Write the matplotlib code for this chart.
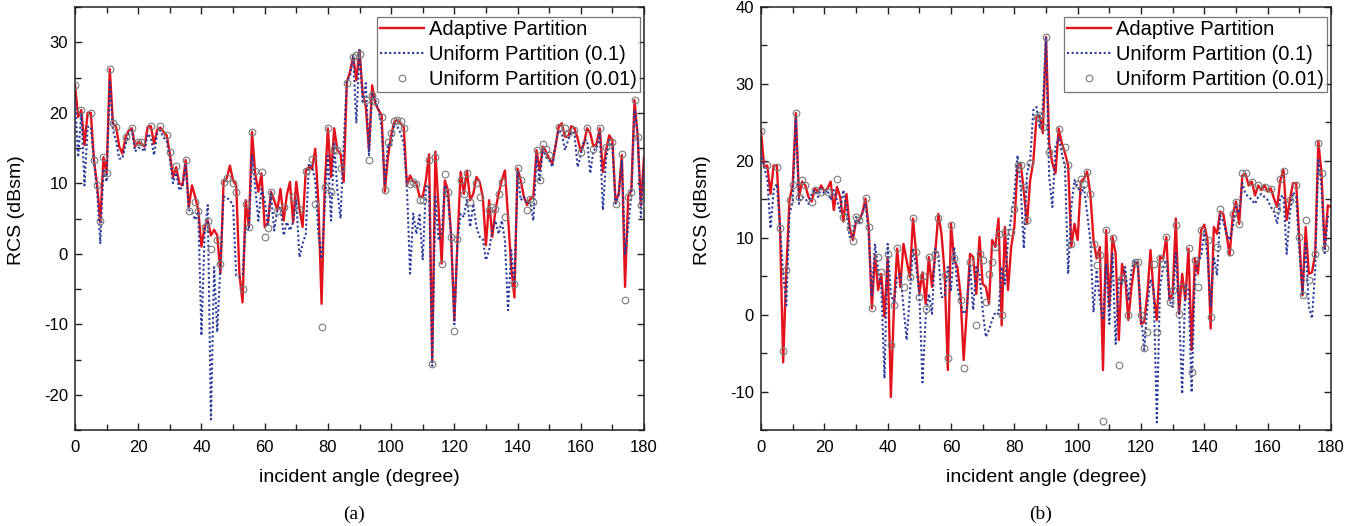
import numpy as np
import matplotlib
matplotlib.use("Agg")
import matplotlib.pyplot as plt
from matplotlib.ticker import MultipleLocator

plt.rcParams['font.family'] = ['Liberation Sans', 'DejaVu Sans']
plt.rcParams['axes.unicode_minus'] = False

angles = list(range(0, 181))

# ---------------- Panel (a) ----------------
a_adaptive = [
    23.9, 19.4, 20.4, 15.4, 20.0, 20.0, 13.3, 9.7, 4.5, 13.7,
    11.4, 26.2, 18.5, 18.0, 15.2, 14.2, 16.5, 17.5, 17.8, 15.2,
    15.9, 15.6, 15.2, 18.0, 18.1, 15.6, 17.6, 17.9, 17.3, 16.8,
    14.2, 10.9, 12.3, 10.0, 9.7, 13.3, 6.6, 9.7, 8.1, 6.2,
    1.0, 3.8, 4.7, 2.6, 3.4, 2.6, -2.8, 10.2, 10.7, 12.5,
    10.4, 9.7, -2.8, -6.9, 7.6, 3.8, 17.3, 11.4, 8.8, 11.4,
    3.8, 4.3, 8.8, 7.6, 6.2, 9.2, 4.7, 8.3, 10.2, 4.5,
    10.2, 6.4, 3.8, 11.8, 12.3, 12.0, 14.9, 7.1, -7.1, 9.5,
    17.8, 10.9, 17.8, 14.7, 14.2, 10.2, 24.4, 25.8, 28.0, 24.6,
    28.9, 22.7, 20.9, 14.7, 23.9, 21.3, 20.4, 19.7, 8.8, 13.7,
    16.8, 18.7, 19.0, 18.5, 18.0, 9.7, 11.1, 10.2, 10.0, 8.1,
    8.1, 10.4, 14.1, -15.4, 14.5, 6.6, -1.4, 10.4, 9.0, 2.4,
    -9.5, 1.9, 11.6, 8.5, 11.8, 7.6, 8.5, 10.9, 10.2, 8.1,
    1.2, 7.6, 2.4, 6.2, 8.5, 10.4, 11.8, 5.2, -1.9, -6.2,
    12.1, 10.4, 8.1, 6.9, 7.8, 8.1, 14.7, 11.8, 15.2, 14.5,
    13.5, 12.8, 15.2, 18.0, 18.5, 16.6, 16.6, 18.1, 17.8, 16.4,
    14.5, 15.6, 17.8, 17.1, 15.2, 15.6, 17.8, 11.6, 14.7, 16.8,
    16.1, 7.3, 8.5, 14.0, -4.7, 8.1, 9.0, 21.8, 16.6, 6.9,
    13.7]

a_uniform01 = [
    22.0, 13.7, 20.0, 9.7, 18.0, 18.0, 13.0, 9.0, 1.4, 12.0,
    10.2, 24.6, 17.5, 16.0, 13.5, 13.5, 15.5, 17.0, 17.5, 14.5,
    15.0, 15.0, 14.5, 17.0, 16.5, 14.0, 17.0, 17.5, 16.5, 16.0,
    13.5, 10.0, 11.5, 9.0, 9.5, 12.5, 6.2, 6.0, 4.8, 6.0,
    -11.6, 2.8, 6.9, -23.5, -1.9, -11.1, -1.4, 8.1, 8.0, 7.5,
    7.0, -3.1, -3.3, -3.0, 3.8, 3.3, 14.0, 9.5, 4.7, 9.2,
    7.6, 3.8, 8.5, 3.3, 6.2, 6.6, 2.6, 4.5, 3.3, 4.5,
    7.6, -0.5, 1.4, 2.8, 12.8, 12.3, 10.4, 2.8, -0.7, 6.6,
    14.2, 4.7, 15.6, 9.0, 5.0, 15.6, 24.6, 25.1, 28.2, 18.5,
    29.1, 21.3, 24.2, 14.0, 22.7, 21.8, 20.4, 17.8, 10.0, 15.6,
    15.2, 18.5, 18.0, 17.1, 15.6, 9.5, -2.8, 5.7, 2.8, 5.5,
    -0.9, 9.5, 9.7, -15.9, 8.1, 1.9, 2.8, 9.7, 7.6, 2.4,
    -10.0, 1.9, 5.7, 5.2, 7.8, 3.8, 7.1, 3.8, 2.4, 2.1,
    -0.9, 0.5, 3.3, 4.7, 2.8, 4.7, 1.9, -8.0, 0.5, -4.3,
    11.8, 7.6, 8.1, 7.1, 7.3, 4.7, 13.7, 10.2, 14.9, 13.7,
    13.3, 12.3, 15.6, 17.5, 17.1, 14.7, 16.1, 17.3, 17.1, 12.3,
    14.0, 16.1, 16.1, 11.4, 14.7, 14.9, 17.1, 6.2, 13.5, 16.1,
    15.2, 7.1, 8.3, 13.3, 0.0, 3.8, 8.5, 20.4, 17.1, 5.2,
    12.3]

a_circ_angles = [0, 2, 5, 6, 7, 8, 9, 10, 11, 12, 13, 16, 18, 20, 21, 24, 27, 29, 30, 32,
                 35, 36, 38, 39, 41, 42, 43, 45, 46, 47, 48, 50, 51, 53, 54, 55, 56, 57, 59, 60,
                 61, 62, 64, 66, 69, 71, 73, 75, 76, 78, 79, 80, 81, 82, 83, 84, 86, 88, 89, 90,
                 92, 93, 94, 95, 97, 98, 99, 100, 101, 102, 103, 104, 106, 107, 108, 109, 110, 112, 113, 114,
                 116, 117, 118, 119, 120, 121, 122, 123, 124, 125, 127, 128, 131, 132, 133, 134, 135, 136, 139, 140,
                 141, 143, 144, 145, 146, 147, 148, 149, 150, 153, 155, 156, 158, 160, 162, 164, 166, 168, 170, 171,
                 173, 174, 175, 176, 177, 178, 179]
a_circ_values = [23.9, 20.4, 20.0, 13.3, 9.7, 4.7, 13.7, 11.4, 26.2, 18.5, 18.0, 16.5, 17.9, 15.9, 15.9, 18.1, 18.1, 16.8, 14.4, 12.4,
                 13.3, 6.0, 7.3, 6.0, 3.8, 4.7, 0.7, 1.9, -1.4, 10.2, 10.7, 10.0, 8.8, -5.0, 7.0, 3.8, 17.3, 11.8, 11.6, 2.4,
                 3.6, 8.8, 6.0, 6.6, 8.0, 6.4, 11.8, 13.5, 7.1, -10.4, 9.5, 17.9, 8.8, 14.9, 14.7, 12.1, 24.2, 27.9, 28.2, 28.4,
                 21.8, 13.3, 22.5, 21.6, 19.4, 9.0, 15.9, 17.1, 18.8, 19.0, 18.8, 17.8, 9.9, 10.2, 9.9, 7.6, 7.6, 13.3, -15.6, 13.7,
                 -1.4, 11.3, 8.8, 2.4, -10.9, 2.1, 10.4, 8.5, 11.4, 7.3, 10.0, 8.1, 6.2, 6.6, 6.4, 8.5, 10.2, 5.2, -4.3, 12.1,
                 10.4, 6.2, 7.8, 7.3, 14.7, 10.4, 15.5, 14.9, 14.0, 18.0, 17.8, 17.1, 17.6, 14.5, 17.8, 14.9, 17.8, 15.2, 15.9, 7.1,
                 14.2, -6.6, 8.1, 8.8, 21.8, 16.6, 6.9]

# ---------------- Panel (b) ----------------
b_adaptive = [
    24.0, 19.2, 19.4, 15.7, 19.4, 19.4, 11.4, -6.2, 5.8, 14.9,
    16.8, 26.2, 15.3, 17.3, 16.8, 15.3, 14.7, 16.4, 16.0, 16.8,
    16.0, 16.4, 17.3, 13.6, 16.6, 15.3, 12.1, 15.7, 11.4, 9.7,
    12.1, 12.3, 13.2, 15.1, 11.4, 0.8, 7.7, 3.2, 5.3, -0.3,
    7.5, -10.7, 1.2, 8.6, 3.6, 9.2, 7.0, 4.9, 12.5, 7.9,
    2.7, 5.5, 1.4, 7.5, 3.6, 7.9, 13.1, 10.5, 5.3, -7.2,
    11.8, 7.1, 6.2, 2.7, -5.9, 0.6, 7.9, 7.5, 2.7, 10.1,
    4.0, 3.6, 1.4, 9.7, 8.8, 12.5, -1.4, 11.4, 3.2, 8.8,
    11.4, 19.4, 19.7, 16.0, 11.8, 17.5, 19.9, 25.7, 25.9, 23.6,
    36.1, 22.3, 19.7, 18.4, 24.2, 22.3, 21.0, 19.4, 8.8, 11.8,
    9.7, 17.3, 17.7, 18.6, 15.7, 9.7, 7.3, 8.8, -7.2, 11.0,
    1.0, 10.1, 7.9, -3.3, 6.6, 4.9, -0.7, 3.6, 6.6, 6.8,
    -1.2, -1.0, 2.7, 8.4, 2.7, -0.7, 7.5, 7.3, 10.1, 1.9,
    2.7, 12.5, 0.1, 5.3, 1.9, 8.6, -4.6, 7.3, 5.3, 11.0,
    11.7, 9.7, -1.8, 11.4, 10.5, 13.4, 13.1, 10.5, 7.7, 13.1,
    14.7, 11.8, 18.1, 18.3, 16.8, 17.3, 15.5, 16.8, 16.2, 16.8,
    16.0, 16.4, 15.1, 14.0, 17.5, 18.8, 12.3, 14.9, 17.1, 17.1,
    9.9, 2.5, 11.4, 5.3, 5.5, 7.9, 22.5, 18.4, 8.6, 14.2,
    14.0]

b_uniform01 = [
    21.0, 19.2, 17.6, 11.2, 16.2, 17.0, 11.4, 5.3, 1.2, 13.1,
    14.7, 25.7, 14.4, 15.3, 15.1, 14.4, 15.7, 16.2, 15.3, 16.4,
    15.7, 16.2, 14.9, 16.2, 14.9, 13.4, 16.2, 14.0, 10.1, 10.1,
    12.7, 11.8, 13.2, 14.4, 10.5, 2.3, 9.2, 5.8, 3.6, -8.3,
    9.2, 2.7, 1.4, 4.9, 5.3, 1.0, -3.3, 2.7, 8.6, 6.2,
    2.7, -8.8, -0.3, 2.7, 0.1, 8.6, 7.9, 2.3, 2.3, 6.2,
    3.2, 8.8, 3.6, 1.6, 0.1, 0.6, 6.6, 0.6, 6.2, 5.3,
    0.6, -2.9, -2.0, -0.7, 0.3, 0.1, 6.2, 4.0, 9.7, 12.7,
    15.7, 20.7, 16.6, 8.6, 18.3, 20.1, 26.6, 27.0, 24.2, 27.0,
    36.1, 17.9, 14.0, 21.8, 23.1, 21.0, 19.2, 5.3, 14.0, 17.5,
    16.6, 15.7, 16.6, 13.2, 9.7, 0.3, 5.8, 1.8, -0.7, 6.6,
    -1.2, 7.9, -3.8, 4.6, 4.0, 6.2, 1.8, 5.8, 7.1, 6.2,
    0.1, -4.6, 1.0, 4.6, 3.2, -14.0, 3.6, 6.2, 7.1, 1.8,
    1.0, 8.0, 1.0, -10.3, 4.0, 3.2, -10.1, 4.6, 7.1, 7.5,
    10.9, 7.5, 1.0, 7.5, 5.1, 12.9, 12.1, 10.5, 9.7, 11.4,
    14.0, 13.2, 17.1, 15.7, 15.3, 14.9, 14.4, 15.3, 15.7, 15.3,
    14.9, 14.0, 13.4, 11.8, 15.3, 15.5, 7.9, 13.2, 15.9, 15.3,
    8.4, 2.7, 9.5, 1.0, -0.5, 5.8, 20.3, 16.6, 8.0, 12.7,
    12.7]

b_circ_angles = [0, 2, 5, 6, 7, 8, 9, 10, 11, 12, 13, 14, 16, 17, 19, 21, 24, 26, 28, 29,
                 30, 31, 33, 34, 35, 37, 38, 40, 41, 42, 43, 45, 47, 48, 49, 50, 51, 52, 53, 55,
                 56, 58, 59, 60, 61, 63, 64, 66, 68, 69, 70, 71, 72, 73, 74, 75, 76, 77, 79, 80,
                 81, 82, 83, 84, 85, 87, 88, 89, 90, 91, 94, 96, 97, 98, 100, 101, 102, 103, 104, 105,
                 106, 107, 108, 109, 111, 113, 114, 116, 118, 119, 120, 121, 122, 124, 125, 126, 127, 128, 129, 130,
                 131, 132, 133, 135, 136, 137, 138, 139, 141, 142, 144, 145, 148, 149, 150, 151, 152, 153, 155, 157,
                 159, 161, 163, 164, 165, 167, 169, 170, 171, 172, 173, 175, 176, 177, 178]
b_circ_values = [23.9, 19.4, 19.2, 11.3, -4.7, 5.8, 14.9, 16.8, 26.2, 15.3, 17.5, 16.8, 14.7, 16.2, 16.0, 16.0, 17.6, 12.7, 11.2, 9.6,
                 12.7, 12.3, 15.2, 11.4, 0.8, 7.5, 5.6, 7.9, -4.0, 1.2, 8.6, 3.6, 4.9, 12.6, 8.2, 2.3, 5.0, 0.7, 7.5, 7.9,
                 12.6, 5.1, -5.7, 11.6, 7.3, 1.9, -7.0, 6.9, -1.4, 7.9, 7.1, 1.6, 5.3, 6.9, 8.8, 10.5, -0.1, 10.8, 10.8, 13.8,
                 19.4, 19.4, 16.6, 12.3, 19.7, 25.7, 25.9, 24.4, 36.1, 21.2, 24.2, 21.8, 19.4, 9.2, 17.0, 17.7, 17.0, 18.6, 15.7, 9.2,
                 6.4, 7.7, -13.8, 11.0, 9.9, -6.6, 4.7, -0.1, 6.9, 6.9, -0.1, -4.4, -2.3, 6.6, -2.3, 7.3, 6.6, 10.1, 1.6, 3.2,
                 11.6, 0.1, 3.6, 8.6, -7.5, 7.1, 3.6, 11.0, 9.7, -0.3, 8.8, 13.7, 8.2, 13.1, 14.7, 11.8, 18.4, 18.4, 17.3, 16.8,
                 16.6, 16.4, 13.8, 17.7, 18.7, 14.9, 16.8, 10.1, 2.5, 12.3, 4.5, 7.9, 22.3, 18.4, 8.6]

labels = ['Adaptive Partition', 'Uniform Partition (0.1)', 'Uniform Partition (0.01)']

RED = '#e3121b'
BLUE = '#26399a'
GREY = '#7a7a7a'

fig = plt.figure(figsize=(13.58, 5.26), dpi=100)
ax1 = fig.add_axes([75 / 1358, 1 - 430 / 526, 569 / 1358, 423 / 526])
ax2 = fig.add_axes([761 / 1358, 1 - 430 / 526, 570 / 1358, 423 / 526])

panels = [
    (ax1, a_adaptive, a_uniform01, a_circ_angles, a_circ_values, (-25, 35), '(a)'),
    (ax2, b_adaptive, b_uniform01, b_circ_angles, b_circ_values, (-15, 40), '(b)'),
]

for ax, ad, u1, ca, cv, ylim, tag in panels:
    ax.plot(angles, ad, color=RED, lw=1.7, zorder=2, label=labels[0])
    ax.plot(angles, u1, color=BLUE, lw=1.5, ls=(0, (1, 1.2)), zorder=3, label=labels[1])
    ax.plot(ca, cv, ls='none', marker='o', ms=4.8, mfc='none', mec=GREY, mew=0.8,
            zorder=4, label=labels[2])
    ax.set_xlim(0, 180)
    ax.set_ylim(*ylim)
    ax.xaxis.set_major_locator(MultipleLocator(20))
    ax.xaxis.set_minor_locator(MultipleLocator(10))
    ax.yaxis.set_major_locator(MultipleLocator(10))
    ax.yaxis.set_minor_locator(MultipleLocator(5))
    ax.tick_params(which='both', direction='in', top=True, right=True, labelsize=12,
                   width=1.0, color='#222222')
    ax.tick_params(axis='x', which='major', pad=7)
    ax.tick_params(axis='y', which='major', pad=5)
    ax.tick_params(which='major', length=5)
    ax.tick_params(which='minor', length=4)
    for s in ax.spines.values():
        s.set_linewidth(1.1)
        s.set_color('#222222')
    ax.set_xlabel('incident angle (degree)', fontsize=14, labelpad=10)
    ax.set_ylabel('RCS (dBsm)', fontsize=14, labelpad=6)
    ax.yaxis.set_label_coords(-0.088, 0.52)
    leg = ax.legend(loc='upper right', bbox_to_anchor=(1 - 4 / 570, 1 - 10 / 423),
                    fontsize=14.5, frameon=True, fancybox=False,
                    edgecolor='#555555', handlelength=2.2, handletextpad=0.25,
                    labelspacing=0.29, borderpad=0.15, borderaxespad=0.0)
    leg.get_frame().set_linewidth(0.9)
    bb = ax.get_position()
    fig.text((bb.x0 + bb.x1) / 2 - 0.004, 1 - 514 / 526, tag, ha='center', va='center',
             fontsize=14, family=['Liberation Serif', 'DejaVu Serif'])

fig.savefig('out.png', dpi=100)
